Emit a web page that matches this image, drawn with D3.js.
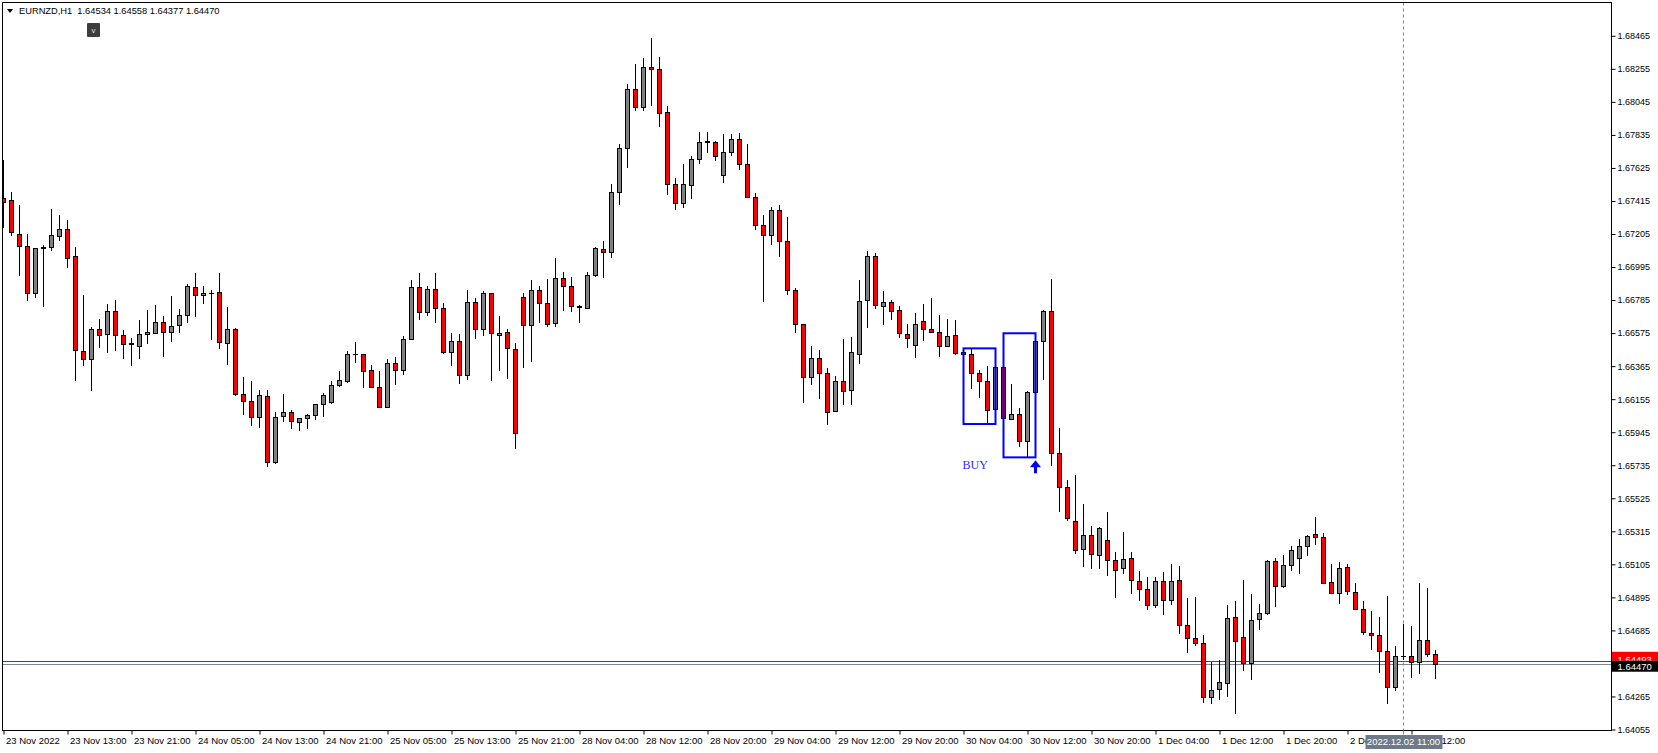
<!DOCTYPE html>
<html><head><meta charset="utf-8">
<script src="https://cdn.jsdelivr.net/npm/d3@7"></script>
<style>body{margin:0;background:#fff;overflow:hidden}svg{display:block}</style>
</head><body>
<svg id="c" width="1658" height="753"></svg>
<script>
const symbolTitle = "EURNZD,H1";
const lastQuote = [1.64534, 1.64558, 1.64377, 1.64470];

const opens = [1.67432,1.67415,1.67203,1.67127,1.66828,1.67116,1.67120,1.67190,1.67235,1.67063,
1.66459,1.66408,1.66599,1.66567,1.66714,1.66561,1.66506,1.66491,1.66566,1.66574,
1.66644,1.66580,1.66624,1.66688,1.66866,1.66815,1.66828,1.66834,1.66510,1.66599,
1.66183,1.66141,1.66040,1.66173,1.65754,1.66046,1.66071,1.66008,1.66033,1.66052,
1.66122,1.66135,1.66243,1.66269,1.66440,1.66440,1.66338,1.66230,1.66103,1.66383,
1.66338,1.66536,1.66866,1.66707,1.66853,1.66733,1.66453,1.66523,1.66307,1.66771,
1.66599,1.66828,1.66561,1.66580,1.66472,1.66802,1.66624,1.66849,1.66764,1.66637,
1.66923,1.66872,1.66745,1.66733,1.66942,1.67108,1.67089,1.67470,1.67750,1.68125,
1.68010,1.68265,1.68252,1.67979,1.67521,1.67400,1.67514,1.67680,1.67788,1.67788,
1.67578,1.67724,1.67807,1.67648,1.67438,1.67260,1.67197,1.67356,1.67159,1.66847,
1.66631,1.66294,1.66415,1.66319,1.66078,1.66269,1.66211,1.66440,1.66784,1.67063,
1.66745,1.66771,1.66720,1.66567,1.66497,1.66650,1.66599,1.66580,1.66491,1.66561,
1.66453,1.66440,1.66319,1.66269,1.66091,1.66358,1.66027,1.66059,1.65887,1.66199,
1.66523,1.66714,1.65811,1.65595,1.65379,1.65201,1.65290,1.65162,1.65258,1.65131,
1.65080,1.65143,1.64997,1.64946,1.64845,1.64997,1.64876,1.65004,1.64717,1.64635,
1.64603,1.64260,1.64311,1.64349,1.64768,1.64641,1.64476,1.64756,1.64794,1.65124,
1.64965,1.65099,1.65143,1.65220,1.65296,1.65277,1.64991,1.64921,1.65086,1.64927,
1.64819,1.64667,1.64654,1.64552,1.64323,1.64520,1.64520,1.64482,1.64622,1.64534];

const highs = [1.67675,1.67474,1.67389,1.67205,1.67118,1.67135,1.67362,1.67326,1.67294,1.67120,
1.66817,1.66612,1.66665,1.66760,1.66785,1.66593,1.66542,1.66658,1.66722,1.66754,
1.66684,1.66811,1.66728,1.66885,1.66955,1.66874,1.66847,1.66955,1.66741,1.66605,
1.66294,1.66272,1.66213,1.66213,1.66071,1.66188,1.66084,1.66035,1.66059,1.66124,
1.66192,1.66270,1.66334,1.66459,1.66516,1.66442,1.66370,1.66332,1.66410,1.66421,
1.66555,1.66911,1.66955,1.66872,1.66955,1.66764,1.66576,1.66567,1.66847,1.66796,
1.66841,1.66830,1.66684,1.66599,1.66510,1.66828,1.66912,1.66874,1.66919,1.67050,
1.66961,1.66932,1.66752,1.66961,1.67120,1.67159,1.67521,1.67775,1.68157,1.68284,
1.68322,1.68449,1.68328,1.68017,1.67559,1.67648,1.67699,1.67851,1.67851,1.67794,
1.67839,1.67839,1.67845,1.67775,1.67464,1.67326,1.67375,1.67387,1.67311,1.66860,
1.66633,1.66493,1.66466,1.66351,1.66300,1.66536,1.66550,1.66911,1.67095,1.67082,
1.66841,1.66784,1.66745,1.66631,1.66701,1.66758,1.66796,1.66688,1.66663,1.66656,
1.66459,1.66478,1.66338,1.66364,1.66478,1.66360,1.66249,1.66097,1.66205,1.66574,
1.66720,1.66917,1.65970,1.65639,1.65671,1.65487,1.65347,1.65340,1.65436,1.65181,
1.65309,1.65181,1.65061,1.65023,1.65023,1.65054,1.65105,1.65093,1.64889,1.64895,
1.64654,1.64482,1.64495,1.64845,1.64870,1.65004,1.64915,1.64853,1.65131,1.65143,
1.65162,1.65220,1.65264,1.65290,1.65404,1.65302,1.65105,1.65118,1.65105,1.64984,
1.64870,1.64806,1.64768,1.64902,1.64584,1.64724,1.64711,1.64984,1.64953,1.64558];

const lows = [1.67245,1.67194,1.66940,1.66781,1.66796,1.66739,1.67099,1.67162,1.66991,1.66272,
1.66368,1.66209,1.66482,1.66450,1.66463,1.66412,1.66368,1.66412,1.66508,1.66567,
1.66425,1.66520,1.66574,1.66637,1.66675,1.66758,1.66533,1.66476,1.66374,1.66177,
1.66056,1.65986,1.65970,1.65726,1.65745,1.66008,1.65963,1.65951,1.65963,1.66021,
1.66040,1.66122,1.66230,1.66256,1.66383,1.66224,1.66224,1.66100,1.66100,1.66243,
1.66307,1.66534,1.66660,1.66682,1.66641,1.66440,1.66368,1.66253,1.66275,1.66536,
1.66555,1.66272,1.66331,1.66285,1.65840,1.66355,1.66393,1.66637,1.66612,1.66616,
1.66717,1.66711,1.66637,1.66726,1.66930,1.66923,1.67050,1.67387,1.67623,1.67985,
1.67985,1.68017,1.67887,1.67451,1.67356,1.67368,1.67426,1.67648,1.67718,1.67667,
1.67527,1.67699,1.67610,1.67432,1.67228,1.66771,1.67133,1.67061,1.66815,1.66574,
1.66129,1.66243,1.66154,1.65989,1.66071,1.66116,1.66116,1.66377,1.66605,1.66726,
1.66624,1.66656,1.66542,1.66478,1.66415,1.66523,1.66574,1.66421,1.66489,1.66434,
1.66260,1.66218,1.66160,1.65995,1.65997,1.66030,1.66025,1.65853,1.65785,1.66181,
1.66279,1.65728,1.65440,1.65379,1.65169,1.65086,1.65073,1.65073,1.65029,1.64889,
1.65042,1.64915,1.64870,1.64813,1.64826,1.64781,1.64845,1.64660,1.64539,1.64584,
1.64222,1.64215,1.64241,1.64260,1.64152,1.64424,1.64368,1.64686,1.64781,1.64832,
1.64953,1.65061,1.65045,1.65156,1.65226,1.64978,1.64919,1.64851,1.64908,1.64813,
1.64654,1.64559,1.64412,1.64219,1.64302,1.64497,1.64381,1.64406,1.64514,1.64377];

const closes = [1.67406,1.67216,1.67127,1.66828,1.67114,1.67119,1.67197,1.67235,1.67050,1.66463,
1.66408,1.66599,1.66561,1.66714,1.66561,1.66504,1.66502,1.66567,1.66576,1.66644,
1.66580,1.66618,1.66688,1.66872,1.66815,1.66828,1.66826,1.66516,1.66599,1.66183,
1.66139,1.66040,1.66178,1.65754,1.66040,1.66071,1.66014,1.66033,1.66052,1.66122,
1.66180,1.66243,1.66275,1.66440,1.66438,1.66332,1.66230,1.66103,1.66383,1.66338,
1.66536,1.66866,1.66707,1.66853,1.66733,1.66453,1.66523,1.66307,1.66771,1.66599,
1.66828,1.66574,1.66574,1.66478,1.65938,1.66624,1.66849,1.66764,1.66631,1.66923,
1.66872,1.66745,1.66738,1.66942,1.67114,1.67089,1.67470,1.67750,1.68125,1.68010,
1.68265,1.68252,1.67972,1.67521,1.67400,1.67521,1.67680,1.67788,1.67790,1.67699,
1.67724,1.67807,1.67648,1.67438,1.67260,1.67197,1.67356,1.67159,1.66847,1.66631,
1.66294,1.66415,1.66319,1.66071,1.66269,1.66205,1.66453,1.66777,1.67063,1.66752,
1.66771,1.66714,1.66574,1.66542,1.66631,1.66599,1.66580,1.66491,1.66555,1.66447,
1.66440,1.66319,1.66269,1.66084,1.66358,1.66033,1.66059,1.65887,1.66199,1.66523,
1.66714,1.65811,1.65595,1.65398,1.65194,1.65290,1.65169,1.65334,1.65131,1.65067,
1.65137,1.65004,1.64946,1.64845,1.64997,1.64876,1.64997,1.64717,1.64635,1.64603,
1.64260,1.64304,1.64355,1.64762,1.64616,1.64476,1.64749,1.64794,1.65124,1.64965,
1.65099,1.65194,1.65220,1.65283,1.65277,1.64984,1.64921,1.65080,1.64934,1.64819,
1.64673,1.64654,1.64552,1.64323,1.64520,1.64519,1.64482,1.64622,1.64533,1.64470];

const timeTickBars = [0,8,16,24,32,40,48,56,64,72,80,88,96,104,112,120,128,136,144,152,160,168,176];
const timeTickLabels = ["23 Nov 2022","23 Nov 13:00","23 Nov 21:00","24 Nov 05:00","24 Nov 13:00",
"24 Nov 21:00","25 Nov 05:00","25 Nov 13:00","25 Nov 21:00","28 Nov 04:00","28 Nov 12:00",
"28 Nov 20:00","29 Nov 04:00","29 Nov 12:00","29 Nov 20:00","30 Nov 04:00","30 Nov 12:00",
"30 Nov 20:00","1 Dec 04:00","1 Dec 12:00","1 Dec 20:00","2 Dec 04:00","2 Dec 12:00"];
const priceTicks = [1.64055,1.64265,1.64475,1.64685,1.64895,1.65105,1.65315,1.65525,1.65735,1.65945,
1.66155,1.66365,1.66575,1.66785,1.66995,1.67205,1.67415,1.67625,1.67835,1.68045,1.68255,1.68465];

const bidPrice = 1.64470;
const askPrice = 1.64493;
const crosshairBar = 175;
const crosshairLabel = "2022.12.02 11:00";

const boxStartBars = [120, 125];
const boxEndBars = [124, 129];
const boxTops = [1.66478, 1.66574];
const boxBottoms = [1.65997, 1.65785];
const buyLabelBar = 120;
const buyLabelText = "BUY";
const arrowBar = 129;
const arrowPrice = 1.65785;

// ---------- drawing ----------
const svg = d3.select("#c");
const W = 1658, H = 753;
const plotL = 2.5, plotR = 1611.5, plotT = 2.5, plotB = 730.5;
const FONT = "Liberation Sans, Arial, sans-serif";

const n = opens.length;
const xs = d3.scaleLinear().domain([0, n - 1]).range([3.5, 3.5 + 8 * (n - 1)]);
const ys = d3.scaleLinear().domain([1.64055, 1.68465]).range([729.5, 729.5 - 0.0441 * 15730]);

svg.append("rect").attr("width", W).attr("height", H).attr("fill", "#fff");

const defs = svg.append("defs");
defs.append("clipPath").attr("id", "plotclip")
  .append("rect").attr("x", 3).attr("y", 3).attr("width", plotR - 3.5).attr("height", plotB - 3.5);

const plot = svg.append("g").attr("clip-path", "url(#plotclip)");

// bid / ask lines
plot.append("line").attr("x1", 0).attr("x2", plotR).attr("y1", Math.round(ys(askPrice)) + 0.5).attr("y2", Math.round(ys(askPrice)) + 0.5)
  .attr("stroke", "#ff0000").attr("stroke-width", 1);
plot.append("line").attr("x1", 0).attr("x2", plotR).attr("y1", Math.round(ys(bidPrice)) + 0.5).attr("y2", Math.round(ys(bidPrice)) + 0.5)
  .attr("stroke", "#7b8899").attr("stroke-width", 1);

// crosshair
const chX = xs(crosshairBar);
plot.append("line").attr("x1", chX).attr("x2", chX).attr("y1", plotT).attr("y2", plotB)
  .attr("stroke", "#7b8899").attr("stroke-width", 1).attr("stroke-dasharray", "3,3");

const idx = d3.range(n);
const cg = plot.append("g").attr("shape-rendering", "crispEdges");
cg.selectAll("line.wick").data(idx).join("line").attr("class", "wick")
  .attr("x1", i => xs(i)).attr("x2", i => xs(i))
  .attr("y1", i => ys(highs[i])).attr("y2", i => ys(lows[i]))
  .attr("stroke", "#000").attr("stroke-width", 1);
cg.selectAll("rect.body").data(idx).join("rect").attr("class", "body")
  .attr("x", i => xs(i) - 2).attr("width", 4)
  .attr("y", i => ys(Math.max(opens[i], closes[i])))
  .attr("height", i => Math.abs(ys(opens[i]) - ys(closes[i])))
  .attr("fill", i => closes[i] > opens[i] ? "#808080" : "#ff0000")
  .attr("stroke", "#000").attr("stroke-width", 1);

// blue boxes
const bg = plot.append("g");
boxStartBars.forEach((s, k) => {
  bg.append("rect")
    .attr("x", xs(s)).attr("y", ys(boxTops[k]))
    .attr("width", xs(boxEndBars[k]) - xs(s))
    .attr("height", ys(boxBottoms[k]) - ys(boxTops[k]))
    .attr("fill", "none").attr("stroke", "#0000ff").attr("stroke-width", 2);
});
bg.append("text").attr("x", xs(buyLabelBar) - 1).attr("y", ys(boxBottoms[0]) + 45)
  .attr("font-family", "Liberation Serif, Times New Roman, serif").attr("font-size", 12)
  .attr("fill", "#2b2bff").text(buyLabelText);
// up arrow
const ax = xs(arrowBar), ay = ys(arrowPrice) + 3;
bg.append("path")
  .attr("d", `M${ax},${ay} L${ax + 5.5},${ay + 7} L${ax + 1.5},${ay + 7} L${ax + 1.5},${ay + 13} L${ax - 1.5},${ay + 13} L${ax - 1.5},${ay + 7} L${ax - 5.5},${ay + 7} Z`)
  .attr("fill", "#0000ff");

// frame
svg.append("rect").attr("x", plotL).attr("y", plotT).attr("width", plotR - plotL).attr("height", plotB - plotT)
  .attr("fill", "none").attr("stroke", "#000").attr("stroke-width", 1).attr("shape-rendering", "crispEdges");

// right price axis
const yAxis = d3.axisRight(ys).tickValues(priceTicks).tickFormat(d3.format(".5f")).tickSize(4).tickPadding(2);
const yg = svg.append("g").attr("transform", `translate(${plotR},0)`).call(yAxis);
yg.select(".domain").remove();
yg.selectAll("text").attr("font-family", FONT).attr("font-size", 9).attr("fill", "#000");
yg.selectAll("line").attr("stroke", "#000");

// bottom time axis
const xAxis = d3.axisBottom(xs).tickValues(timeTickBars).tickFormat((d, i) => timeTickLabels[i]).tickSize(4);
const xg = svg.append("g").attr("transform", `translate(0,${plotB})`).call(xAxis);
xg.select(".domain").remove();
xg.selectAll("text").attr("text-anchor", "start").attr("x", 2).attr("y", 7).attr("dy", "0.71em")
  .attr("font-family", FONT).attr("font-size", 9.5).attr("fill", "#000");
xg.selectAll("line").attr("stroke", "#000");

// price labels (ask red, mostly covered by bid black)
const askY = ys(askPrice), bidY = ys(bidPrice);
defs.append("clipPath").attr("id", "askclip").append("rect")
  .attr("x", plotR).attr("y", askY - 9).attr("width", W - plotR).attr("height", bidY - 3.5 - (askY - 9));
const askG = svg.append("g").attr("clip-path", "url(#askclip)");
askG.append("rect").attr("x", plotR + 0.5).attr("y", askY - 9).attr("width", W - plotR).attr("height", 12).attr("fill", "#ff0000");
askG.append("text").attr("x", plotR + 6).attr("y", askY - 1).attr("dy", "0.35em").attr("fill", "#fff")
  .attr("font-family", FONT).attr("font-size", 9.5).text(d3.format(".5f")(askPrice));
svg.append("rect").attr("x", plotR + 0.5).attr("y", bidY - 3.5).attr("width", W - plotR).attr("height", 11).attr("fill", "#000");
svg.append("text").attr("x", plotR + 6).attr("y", bidY + 2).attr("dy", "0.35em").attr("fill", "#fff")
  .attr("font-family", FONT).attr("font-size", 9.5).text(d3.format(".5f")(bidPrice));

// crosshair time label
svg.append("line").attr("x1", chX).attr("x2", chX).attr("y1", plotB).attr("y2", plotB + 4).attr("stroke", "#7b8899");
svg.append("rect").attr("x", chX - 38).attr("y", 735).attr("width", 77).attr("height", 14).attr("fill", "#6e7a88");
svg.append("text").attr("x", chX).attr("y", 742).attr("dy", "0.35em").attr("text-anchor", "middle").attr("fill", "#fff")
  .attr("font-family", FONT).attr("font-size", 9.5).text(crosshairLabel);

// header
svg.append("path").attr("d", "M7,9 L13,9 L10,13 Z").attr("fill", "#000");
svg.append("text").attr("x", 19).attr("y", 14).attr("font-family", FONT)
  .attr("font-size", 9.3).attr("fill", "#000").attr("xml:space", "preserve")
  .text(symbolTitle + "  " + lastQuote.map(d3.format(".5f")).join(" "));
svg.append("rect").attr("x", 87).attr("y", 23).attr("width", 13).attr("height", 14).attr("rx", 1).attr("fill", "#3c3c3c");
svg.append("text").attr("x", 93.5).attr("y", 30).attr("dy", "0.35em").attr("text-anchor", "middle")
  .attr("font-family", FONT).attr("font-size", 8).attr("fill", "#e0e0e0").text("v");
</script>
</body></html>
